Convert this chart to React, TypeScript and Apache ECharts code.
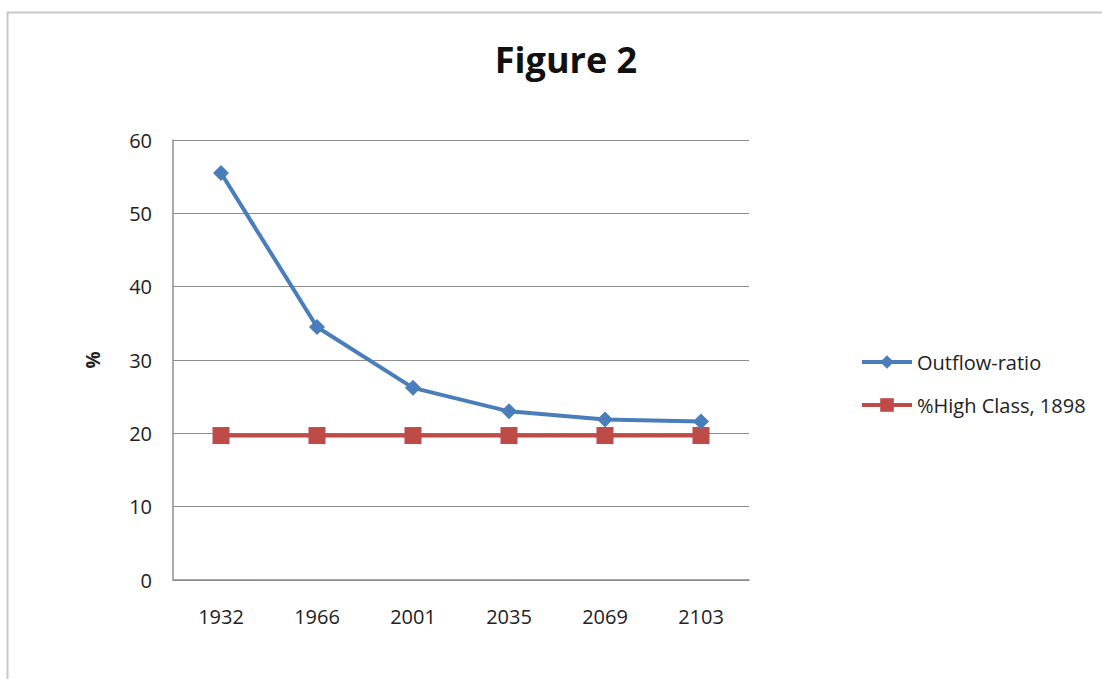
import React, { useEffect, useRef } from "react";
import * as echarts from "echarts";

const categories = ["1932", "1966", "2001", "2035", "2069", "2103"];
const outflowRatio = [55.5, 34.5, 26.2, 23.0, 21.9, 21.6];
const highClass1898 = [19.7, 19.7, 19.7, 19.7, 19.7, 19.7];
const yTicks = { min: 0, max: 60, interval: 10 };

const FONT = "'Open Sans', 'Noto Sans', sans-serif";

export default function App() {
  const ref = useRef<HTMLDivElement>(null);
  useEffect(() => {
    document.body.style.margin = "0";
    const chart = echarts.init(ref.current!, null, { renderer: "svg" });
    chart.setOption({
      animation: false,
      backgroundColor: "#ffffff",
      title: {
        text: "Figure 2",
        left: 561,
        top: 36,
        textAlign: "center",
        textStyle: { fontFamily: FONT, fontSize: 36, fontWeight: "bold", color: "#111" },
      },
      graphic: [
        {
          type: "rect",
          shape: { x: 7.5, y: 12.5, width: 1120, height: 700 },
          style: { fill: "none", stroke: "#c8c8c8", lineWidth: 2 },
          silent: true,
        },
      ],
      legend: {
        orient: "vertical",
        left: 855,
        top: 347,
        itemWidth: 50,
        itemHeight: 17,
        itemGap: 23,
        lineStyle: { width: 4 },
        textStyle: { fontFamily: FONT, fontSize: 20, color: "#222" },
        data: ["Outflow-ratio", "%High Class, 1898"],
      },
      grid: { left: 173, right: 353, top: 140, bottom: 99 },
      xAxis: {
        type: "category",
        data: categories,
        boundaryGap: true,
        axisLine: { lineStyle: { color: "#8c8c8c", width: 1.5 } },
        axisTick: { show: false },
        axisLabel: { fontFamily: FONT, fontSize: 20, color: "#222", margin: 26 },
      },
      yAxis: {
        type: "value",
        min: yTicks.min,
        max: yTicks.max,
        interval: yTicks.interval,
        name: "%",
        nameLocation: "middle",
        nameRotate: 90,
        nameGap: 71,
        nameTextStyle: { fontFamily: FONT, fontSize: 19, fontWeight: "bold", color: "#222" },
        axisLine: { show: true, lineStyle: { color: "#8c8c8c", width: 1.5 } },
        axisTick: { show: false },
        axisLabel: { fontFamily: FONT, fontSize: 20, color: "#222", margin: 21 },
        splitLine: { lineStyle: { color: "#8c8c8c", width: 1.2 } },
      },
      series: [
        {
          name: "Outflow-ratio",
          type: "line",
          data: outflowRatio,
          symbol: "diamond",
          symbolSize: 16,
          lineStyle: { color: "#4a7ebb", width: 4 },
          itemStyle: { color: "#4a7ebb" },
          z: 3,
        },
        {
          name: "%High Class, 1898",
          type: "line",
          data: highClass1898,
          symbol: "rect",
          symbolSize: 17,
          lineStyle: { color: "#be4b48", width: 4 },
          itemStyle: { color: "#be4b48" },
          z: 2,
        },
      ],
    });
    return () => chart.dispose();
  }, []);
  return (
    <div
      ref={ref}
      style={{ position: "absolute", left: 0, top: 0, width: 1102, height: 679 }}
    />
  );
}
